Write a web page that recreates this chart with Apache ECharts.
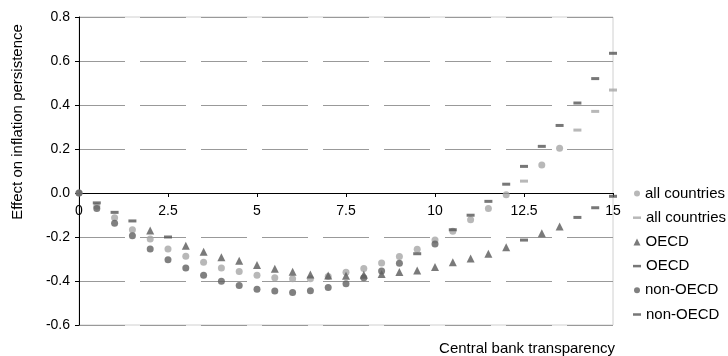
<!DOCTYPE html>
<html>
<head>
<meta charset="utf-8">
<script src="https://cdn.jsdelivr.net/npm/echarts@6/dist/echarts.min.js"></script>
<style>
html,body{margin:0;padding:0;background:#fff;}
#chart{width:728px;height:356px;}
</style>
</head>
<body>
<div id="chart"></div>
<script>
// x positions (central bank transparency)
var xs = [0,0.5,1,1.5,2,2.5,3,3.5,4,4.5,5,5.5,6,6.5,7,7.5,8,8.5,9,9.5,10,10.5,11,11.5,12,12.5,13,13.5,14,14.5,15];
// all countries, significant (circle)
var allCircle = [0,-0.06,-0.113,-0.167,-0.209,-0.255,-0.288,-0.315,-0.341,-0.357,-0.374,-0.385,-0.39,-0.39,-0.38,-0.36,-0.343,-0.318,-0.289,-0.256,-0.214,-0.174,-0.122,-0.07,-0.008,null,0.127,0.203,null,null,null];
// all countries, dash
var allDash = [null,null,null,null,null,null,null,null,null,null,null,null,null,null,null,null,null,null,null,null,null,null,null,null,null,0.054,null,null,0.286,0.371,0.468];
// OECD, significant (triangle)
var oecdTri = [null,null,null,null,-0.17,null,-0.24,-0.267,-0.292,-0.308,-0.327,-0.344,-0.358,-0.371,-0.375,-0.376,-0.372,-0.368,-0.359,-0.352,-0.336,-0.315,-0.298,-0.276,-0.247,null,-0.183,-0.152,null,null,null];
// OECD, dash
var oecdDash = [null,-0.045,-0.088,-0.127,null,-0.2,null,null,null,null,null,null,null,null,null,null,null,null,null,null,null,null,null,null,null,-0.214,null,null,-0.111,-0.067,-0.015];
// non-OECD, significant (circle)
var nonCircle = [0,-0.07,-0.137,-0.194,-0.255,-0.303,-0.341,-0.374,-0.401,-0.421,-0.437,-0.446,-0.452,-0.444,-0.43,-0.412,-0.385,-0.354,-0.319,null,-0.232,null,null,null,null,null,null,null,null,null,null];
// non-OECD, dash
var nonDash = [null,null,null,null,null,null,null,null,null,null,null,null,null,null,null,null,null,null,null,-0.276,null,-0.167,-0.101,-0.038,0.04,0.121,0.212,0.307,0.409,0.52,0.635];

var xTicks = [0,2.5,5,7.5,10,12.5,15];
var yTicks = [-0.6,-0.4,-0.2,0,0.2,0.4,0.6,0.8];

function pairs(arr){
  var out=[];
  for(var i=0;i<xs.length;i++){ if(arr[i]!==null && arr[i]!==undefined) out.push([xs[i],arr[i]]); }
  return out;
}

var FONT = 'Liberation Sans, Arial, sans-serif';
var LIGHT = '#a6a6a6', DARK = '#606060', TRI = '#595959', DARKD = '#555555';

var GRID_TOP = 17, GRID_H = 308;
var Y_MIN = -0.6, Y_MAX = 0.8;
// distance from the grid bottom up to the y=0 line (x axis crosses there)
var zeroOffset = -GRID_H * (0 - Y_MIN) / (Y_MAX - Y_MIN);

var names = ['all countries','all countries ','OECD','OECD ','non-OECD','non-OECD '];
var legendCenters = [193.5,217.7,241.9,266.1,290.3,314.5];
var legendIcons = [
  {icon:'circle', w:6, h:6},
  {icon:'rect', w:8, h:2.5},
  {icon:'triangle', w:7, h:7},
  {icon:'rect', w:8, h:2.5},
  {icon:'circle', w:6, h:6},
  {icon:'rect', w:8, h:2.5}
];
var legends = names.map(function(n,i){
  var ic = legendIcons[i];
  return {
    data:[{name:n, icon:ic.icon}],
    left: 637 - ic.w/2,
    top: legendCenters[i] - 9,
    itemWidth: ic.w, itemHeight: ic.h,
    selectedMode:false,
    padding:0,
    formatter: function(s){ return s.trim(); },
    textStyle:{fontFamily:FONT, fontSize:15, color:'#000', lineHeight:18}
  };
});

var chart = echarts.init(document.getElementById('chart'), null, {renderer:'canvas'});
chart.setOption({
  animation:false,
  backgroundColor:'#fff',
  legend: legends,
  grid:{left:79, right:115, top:GRID_TOP, height:GRID_H, show:true, borderColor:'#d0d0d0', borderWidth:1, containLabel:false},
  xAxis:{
    type:'value', min:0, max:15, interval:2.5,
    position:'bottom', offset: zeroOffset,
    axisLine:{show:true, onZero:false, lineStyle:{color:'#000', width:1}},
    axisTick:{show:true, length:4, lineStyle:{color:'#000'}},
    axisLabel:{fontFamily:FONT, fontSize:14, color:'#000', margin:11,
      formatter:function(v){ return String(v); }},
    splitLine:{show:false}
  },
  yAxis:{
    type:'value', min:Y_MIN, max:Y_MAX, interval:0.2,
    axisLine:{show:true, lineStyle:{color:'#000', width:1}},
    axisTick:{show:true, length:4, lineStyle:{color:'#000'}},
    axisLabel:{fontFamily:FONT, fontSize:14, color:'#000', margin:9,
      formatter:function(v){ var r = Math.abs(v)<1e-9?0:v; return r.toFixed(1); }},
    splitLine:{show:true, lineStyle:{color:'#999', width:1, type:[46,15]}}
  },
  graphic:[
    {type:'text', x:615, y:349, style:{text:'Central bank transparency', font:'15px Liberation Sans', fill:'#000', align:'right', verticalAlign:'middle', textAlign:'right', textVerticalAlign:'middle'}},
    {type:'text', x:18, y:122, rotation:Math.PI/2, style:{text:'Effect on inflation persistence', font:'15px Liberation Sans', fill:'#000', align:'center', verticalAlign:'middle', textAlign:'center', textVerticalAlign:'middle'}}
  ],
  series:[
    {name:names[0], type:'scatter', data:pairs(allCircle), symbol:'circle', symbolSize:7, itemStyle:{color:LIGHT}},
    {name:names[1], type:'scatter', data:pairs(allDash), symbol:'rect', symbolSize:[8,3], itemStyle:{color:LIGHT}},
    {name:names[2], type:'scatter', data:pairs(oecdTri), symbol:'triangle', symbolSize:8, itemStyle:{color:TRI}},
    {name:names[3], type:'scatter', data:pairs(oecdDash), symbol:'rect', symbolSize:[8,3], itemStyle:{color:DARKD}},
    {name:names[4], type:'scatter', data:pairs(nonCircle), symbol:'circle', symbolSize:7, itemStyle:{color:DARK}},
    {name:names[5], type:'scatter', data:pairs(nonDash), symbol:'rect', symbolSize:[8,3], itemStyle:{color:DARKD}}
  ]
});
</script>
</body>
</html>
